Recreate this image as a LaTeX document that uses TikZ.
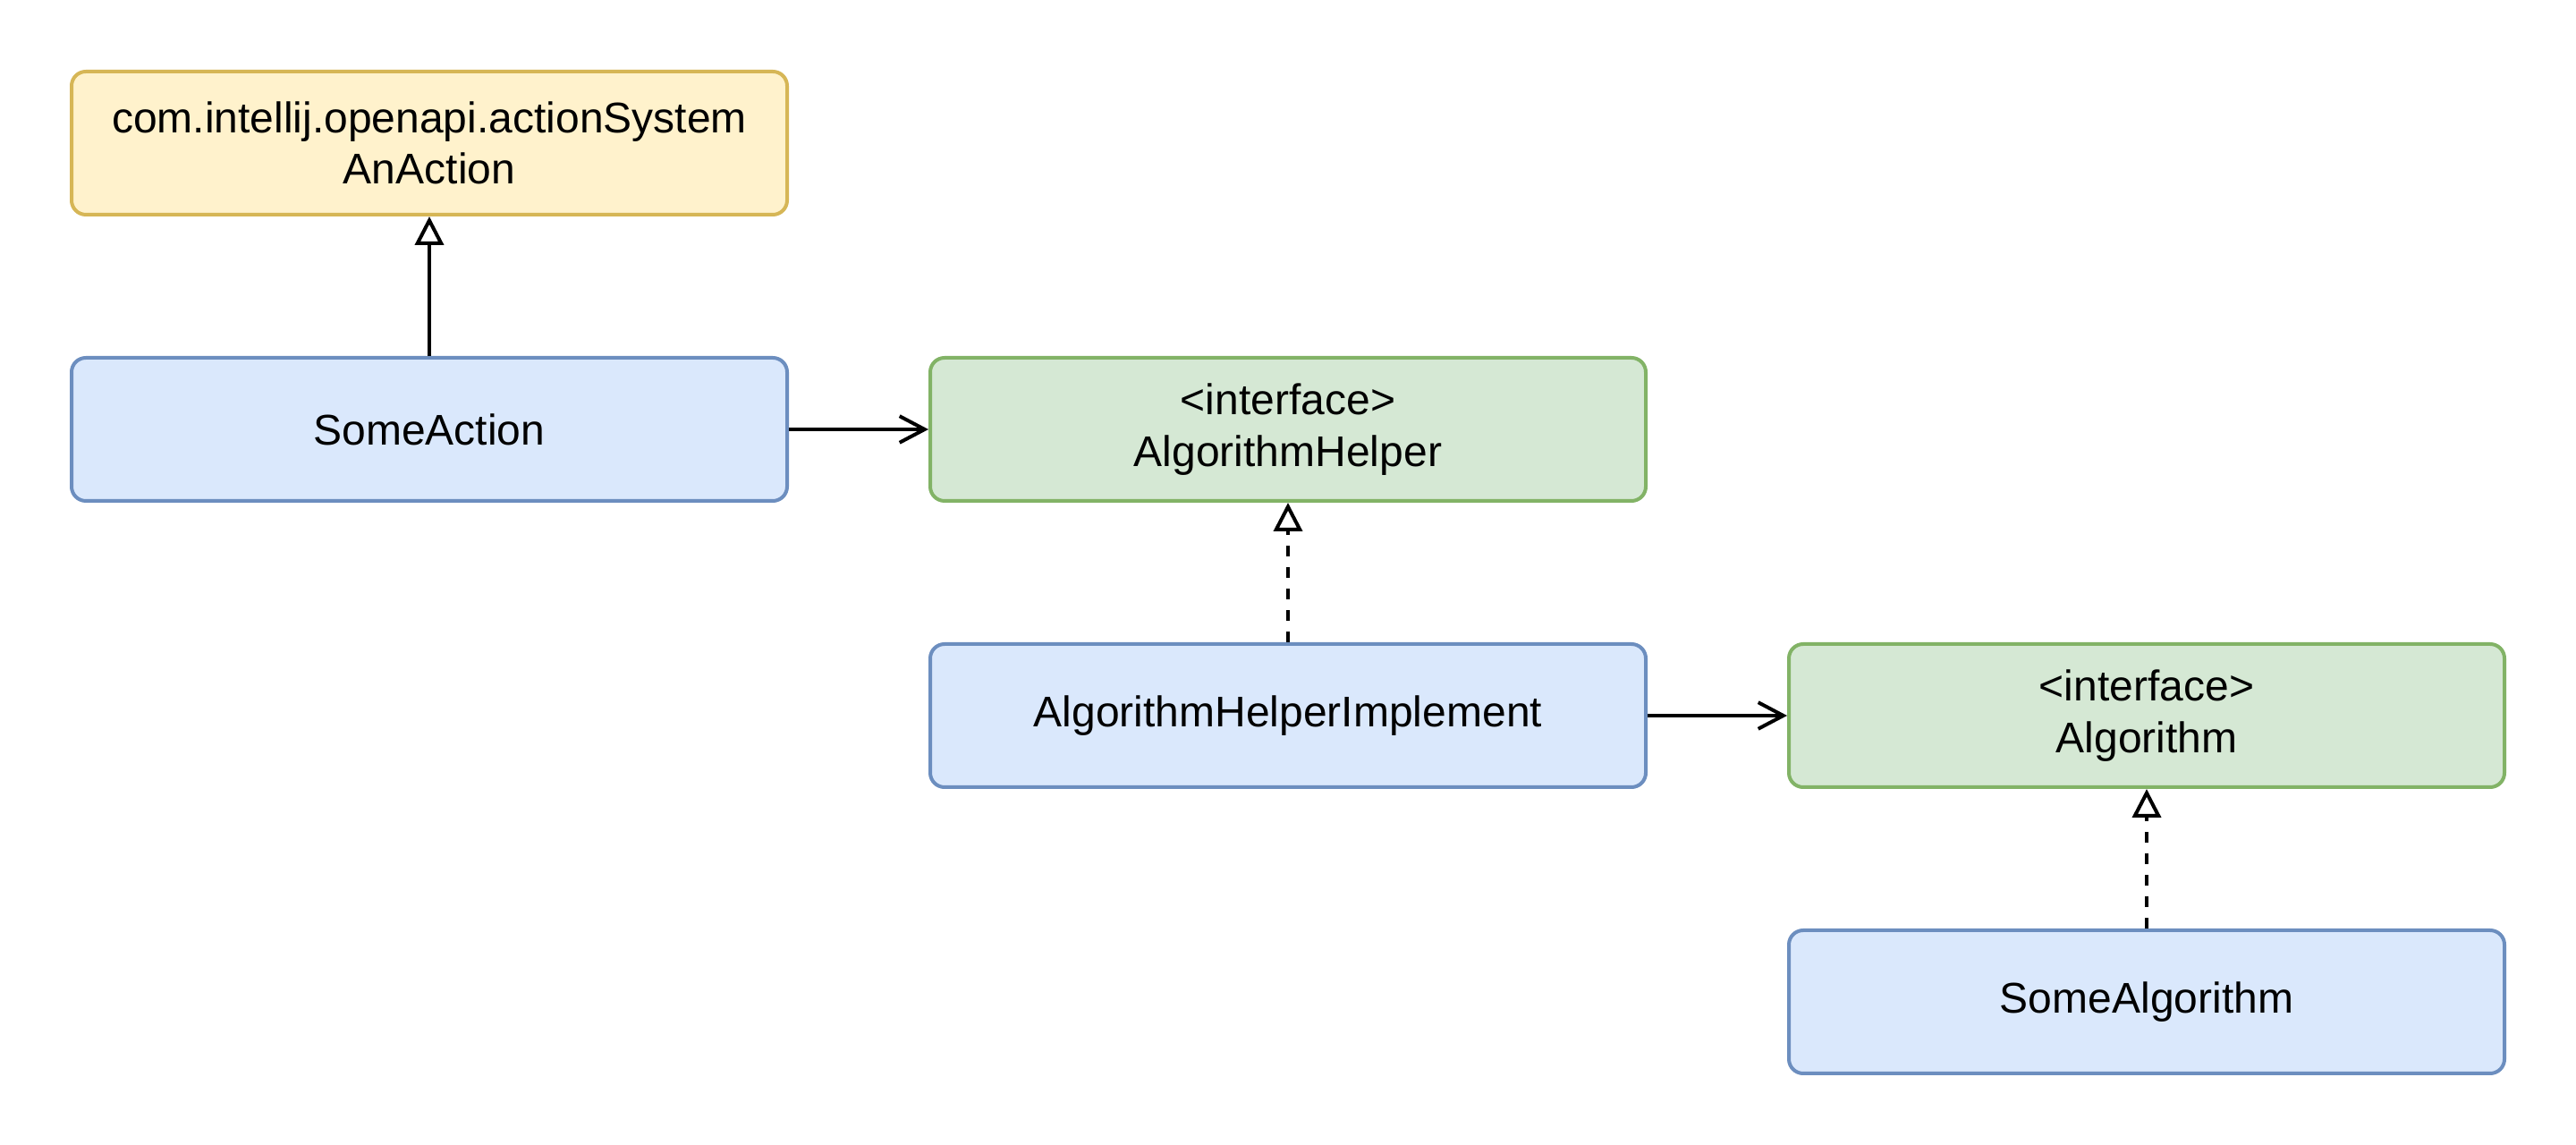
\documentclass[tikz,border=0pt]{standalone}
\usepackage{fontspec}
\setmainfont{Liberation Sans}
\usetikzlibrary{arrows.meta}
\definecolor{bfill}{HTML}{DAE8FC}\definecolor{bline}{HTML}{6C8EBF}
\definecolor{gfill}{HTML}{D5E8D4}\definecolor{gline}{HTML}{82B366}
\definecolor{yfill}{HTML}{FFF2CC}\definecolor{yline}{HTML}{D6B656}
\tikzset{
  box/.style={rectangle, rounded corners=4pt, minimum width=200pt, minimum height=40pt,
    inner sep=0pt, line width=1pt, align=center, font=\fontsize{12pt}{14.4pt}\selectfont},
  cls/.style={box, draw=bline, fill=bfill},
  iface/.style={box, draw=gline, fill=gfill},
  ext/.style={box, draw=yline, fill=yfill},
  assoc/.style={line width=1pt, -{Straight Barb[length=7pt, width=7.4pt, line width=1pt]}},
  inherit/.style={line width=1pt, -{Triangle[open, length=8pt, width=8pt, fill=white, line width=1pt]}},
  realize/.style={inherit, dash pattern=on 3pt off 3pt}
}
\begin{document}
\begin{tikzpicture}[x=1pt, y=-1pt]
\useasboundingbox (0,0) rectangle (720,320);
\node[ext]   (anaction) at (120,40)  {com.intellij.openapi.actionSystem\\AnAction};
\node[cls]   (someaction) at (120,120) {SomeAction};
\node[iface] (helper) at (360,120) {<interface>\\AlgorithmHelper};
\node[cls]   (helperimpl) at (360,200) {AlgorithmHelperImplement};
\node[iface] (algo) at (600,200) {<interface>\\Algorithm};
\node[cls]   (somealgo) at (600,280) {SomeAlgorithm};
\draw[inherit] (someaction.north) -- (anaction.south);
\draw[assoc] (someaction.east) -- (helper.west);
\draw[realize] (helperimpl.north) -- (helper.south);
\draw[assoc] (helperimpl.east) -- (algo.west);
\draw[realize] (somealgo.north) -- (algo.south);
\end{tikzpicture}
\end{document}
